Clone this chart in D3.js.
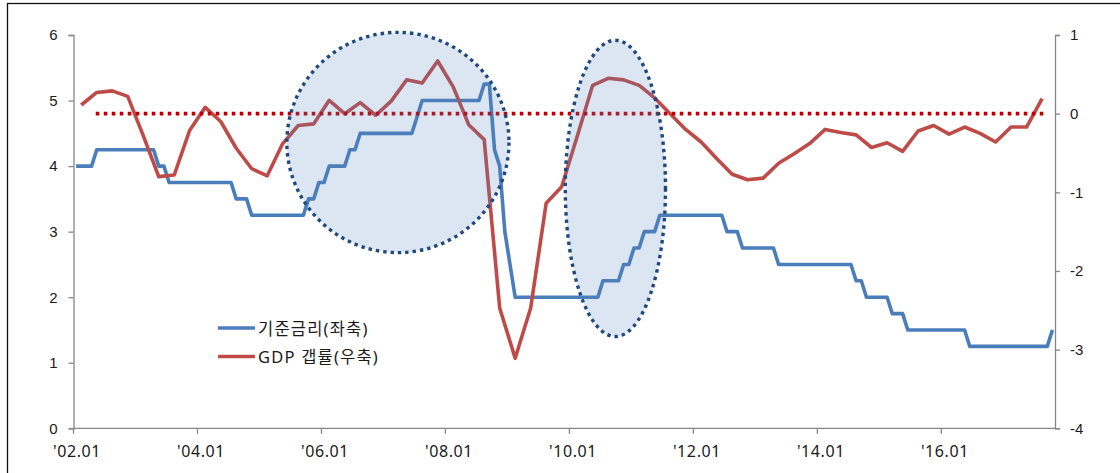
<!DOCTYPE html>
<html>
<head>
<meta charset="utf-8">
<script src="https://cdn.jsdelivr.net/npm/d3@7"></script>
<style>
    body { margin: 0; background: #fff; }
    svg { display: block; font-family: "Noto Sans", "Noto Sans CJK KR", sans-serif; }
</style>
</head>
<body>
<svg id="chart" width="1120" height="473"></svg>
<script>
/* ========================================
   Base rate vs GDP gap (monthly axis, 2002.01 - 2017.10)
   ======================================== */

// Category axis: years covered, last year stops at October
const years = [2002, 2003, 2004, 2005, 2006, 2007, 2008, 2009, 2010, 2011, 2012, 2013, 2014, 2015, 2016, 2017];
const lastYearMonths = 10;

// Base rate (left axis), one value per month
const baseRate = [
    4.00, 4.00, 4.00, 4.00, 4.25, 4.25, 4.25, 4.25, 4.25, 4.25, 4.25, 4.25, // 2002
    4.25, 4.25, 4.25, 4.25, 4.00, 4.00, 3.75, 3.75, 3.75, 3.75, 3.75, 3.75, // 2003
    3.75, 3.75, 3.75, 3.75, 3.75, 3.75, 3.75, 3.50, 3.50, 3.50, 3.25, 3.25, // 2004
    3.25, 3.25, 3.25, 3.25, 3.25, 3.25, 3.25, 3.25, 3.25, 3.50, 3.50, 3.75, // 2005
    3.75, 4.00, 4.00, 4.00, 4.00, 4.25, 4.25, 4.50, 4.50, 4.50, 4.50, 4.50, // 2006
    4.50, 4.50, 4.50, 4.50, 4.50, 4.50, 4.75, 5.00, 5.00, 5.00, 5.00, 5.00, // 2007
    5.00, 5.00, 5.00, 5.00, 5.00, 5.00, 5.00, 5.25, 5.25, 4.25, 4.00, 3.00, // 2008
    2.50, 2.00, 2.00, 2.00, 2.00, 2.00, 2.00, 2.00, 2.00, 2.00, 2.00, 2.00, // 2009
    2.00, 2.00, 2.00, 2.00, 2.00, 2.00, 2.25, 2.25, 2.25, 2.25, 2.50, 2.50, // 2010
    2.75, 2.75, 3.00, 3.00, 3.00, 3.25, 3.25, 3.25, 3.25, 3.25, 3.25, 3.25, // 2011
    3.25, 3.25, 3.25, 3.25, 3.25, 3.25, 3.00, 3.00, 3.00, 2.75, 2.75, 2.75, // 2012
    2.75, 2.75, 2.75, 2.75, 2.50, 2.50, 2.50, 2.50, 2.50, 2.50, 2.50, 2.50, // 2013
    2.50, 2.50, 2.50, 2.50, 2.50, 2.50, 2.50, 2.25, 2.25, 2.00, 2.00, 2.00, // 2014
    2.00, 2.00, 1.75, 1.75, 1.75, 1.50, 1.50, 1.50, 1.50, 1.50, 1.50, 1.50, // 2015
    1.50, 1.50, 1.50, 1.50, 1.50, 1.25, 1.25, 1.25, 1.25, 1.25, 1.25, 1.25, // 2016
    1.25, 1.25, 1.25, 1.25, 1.25, 1.25, 1.25, 1.25, 1.25, 1.50              // 2017
];

// GDP gap (right axis), quarterly 2002Q1 - 2017Q3, plotted on the middle month
const gdpGap = [
     0.11,  0.27,  0.29,  0.22,   // 2002
    -0.28, -0.80, -0.78, -0.21,   // 2003
     0.08, -0.10, -0.44, -0.70,   // 2004
    -0.79, -0.38, -0.15, -0.13,   // 2005
     0.17,  0.00,  0.14, -0.02,   // 2006
     0.16,  0.43,  0.39,  0.67,   // 2007
     0.34, -0.14, -0.33, -2.47,   // 2008
    -3.11, -2.47, -1.14, -0.93,   // 2009
    -0.29,  0.36,  0.45,  0.43,   // 2010
     0.36,  0.20,  0.00, -0.20,   // 2011
    -0.36, -0.57, -0.77, -0.84,   // 2012
    -0.82, -0.63, -0.51, -0.38,   // 2013
    -0.20, -0.24, -0.27, -0.43,   // 2014
    -0.37, -0.48, -0.22, -0.15,   // 2015
    -0.26, -0.17, -0.25, -0.36,   // 2016
    -0.17, -0.17,  0.19           // 2017
];

// Dotted zero line for the gap, first and last month index it spans
const zeroLineSpan = [4, 188];
const zeroLineValue = 0;

// Tick labels on the category axis (every 24 months)
const xTickLabels = ["'02.01", "'04.01", "'06.01", "'08.01", "'10.01", "'12.01", "'14.01", "'16.01"];
const xTickStep = 24;
const yLeftTicks = [0, 1, 2, 3, 4, 5, 6];
const yRightTicks = [-4, -3, -2, -1, 0, 1];

// Legend
const legendLabels = ['기준금리(좌축)', 'GDP 갭률(우축)'];

// Highlight ellipses in data units: centre month index, left-axis value, radii
const highlights = [
    { month: 62.3, value: 4.36, rMonth: 21.5, rValue: 1.68 },
    { month: 104.4, value: 3.66, rMonth: 9.7, rValue: 2.26 }
];

// ---- build categories ----
const categories = [];
years.forEach((y, yi) => {
    const nm = yi === years.length - 1 ? lastYearMonths : 12;
    for (let m = 1; m <= nm; m++) categories.push(`${y}.${String(m).padStart(2, '0')}`);
});

const colors = { rate: '#4a7ebb', gap: '#be4b48', zero: '#c00000', axis: '#868686', ring: '#1f497d' };

const svg = d3.select('#chart');
const plot = { left: 73.5, right: 1055, top: 35, bottom: 428.3 };

// Frame
svg.append('rect')
    .attr('x', 7.5).attr('y', 3.5)
    .attr('width', 1300).attr('height', 700)
    .attr('fill', 'none').attr('stroke', '#111').attr('stroke-width', 1.3);

// Scales
const x = d3.scaleBand().domain(d3.range(categories.length)).range([plot.left, plot.right]).padding(0);
const bw = x.bandwidth();
const cx = i => x(Math.floor(i)) + (i - Math.floor(i)) * bw + bw / 2;
const yL = d3.scaleLinear().domain([0, 6]).range([plot.bottom, plot.top]);
const yR = d3.scaleLinear().domain([-4, 1]).range([plot.bottom, plot.top]);

// Axes (plain hyphen minus, no decimals)
const plainFmt = d => String(d);
const yAxisL = d3.axisLeft(yL).tickValues(yLeftTicks).tickFormat(plainFmt).tickSize(5).tickPadding(11);
const yAxisR = d3.axisRight(yR).tickValues(yRightTicks).tickFormat(plainFmt).tickSize(5).tickPadding(10);

const gL = svg.append('g').attr('transform', `translate(${plot.left},0)`).call(yAxisL);
const gR = svg.append('g').attr('transform', `translate(${plot.right},0)`).call(yAxisR);
[gL, gR].forEach(g => {
    g.select('.domain').attr('stroke', colors.axis).attr('stroke-width', 1.3);
    g.selectAll('.tick line').attr('stroke', colors.axis).attr('stroke-width', 1.3);
    g.selectAll('.tick text').attr('fill', '#1a1a1a').style('font-size', '15px');
});

// Bottom axis: ticks on category boundaries, labels under category
const tickIdx = xTickLabels.map((d, i) => i * xTickStep);
const gB = svg.append('g');
gB.append('line')
    .attr('x1', plot.left).attr('x2', plot.right)
    .attr('y1', plot.bottom).attr('y2', plot.bottom)
    .attr('stroke', colors.axis).attr('stroke-width', 1.3);
gB.selectAll('line.tick')
    .data(tickIdx)
    .join('line')
    .attr('class', 'tick')
    .attr('x1', d => x(d)).attr('x2', d => x(d))
    .attr('y1', plot.bottom).attr('y2', plot.bottom + 5.5)
    .attr('stroke', colors.axis).attr('stroke-width', 1.3);
gB.selectAll('text')
    .data(tickIdx)
    .join('text')
    .attr('x', d => cx(d) + 1)
    .attr('y', 457)
    .attr('text-anchor', 'middle')
    .attr('fill', '#1a1a1a')
    .style('font-size', '16px')
    .style('letter-spacing', '0.6px')
    .text((d, i) => xTickLabels[i]);

// Lines
const rateLine = d3.line()
    .x((d, i) => cx(i))
    .y(d => yL(d));

const gapLine = d3.line()
    .x((d, i) => cx(i * 3 + 1))
    .y(d => yR(d));

svg.append('path')
    .datum(baseRate)
    .attr('d', rateLine)
    .attr('fill', 'none')
    .attr('stroke', colors.rate)
    .attr('stroke-width', 3.6)
    .attr('stroke-linejoin', 'round');

svg.append('path')
    .datum(gdpGap)
    .attr('d', gapLine)
    .attr('fill', 'none')
    .attr('stroke', colors.gap)
    .attr('stroke-width', 3.6)
    .attr('stroke-linejoin', 'round');

// Zero reference (dotted)
svg.append('line')
    .attr('x1', cx(zeroLineSpan[0]) - 1).attr('x2', cx(zeroLineSpan[1]))
    .attr('y1', yR(zeroLineValue)).attr('y2', yR(zeroLineValue))
    .attr('stroke', colors.zero)
    .attr('stroke-width', 3.6)
    .attr('stroke-dasharray', '3.6 4.4');

// Highlight ellipses
svg.selectAll('ellipse.hl')
    .data(highlights)
    .join('ellipse')
    .attr('class', 'hl')
    .attr('cx', d => cx(d.month))
    .attr('cy', d => yL(d.value))
    .attr('rx', d => d.rMonth * bw)
    .attr('ry', d => yL(0) - yL(d.rValue))
    .attr('fill', 'rgba(79,129,189,0.2)')
    .attr('stroke', colors.ring)
    .attr('stroke-width', 3.4)
    .attr('stroke-dasharray', '3.4 4');

// Legend
const legend = svg.append('g');
legendLabels.forEach((label, i) => {
    const ly = 328 + i * 28.5;
    legend.append('line')
        .attr('x1', 218).attr('x2', 255)
        .attr('y1', ly).attr('y2', ly)
        .attr('stroke', i === 0 ? colors.rate : colors.gap)
        .attr('stroke-width', 3.6);
    legend.append('text')
        .attr('x', 258).attr('y', ly + 1)
        .attr('dy', '0.35em')
        .attr('fill', '#1a1a1a')
        .style('font-size', '16.5px')
        .style('letter-spacing', '1.2px')
        .text(label);
});
</script>
</body>
</html>
